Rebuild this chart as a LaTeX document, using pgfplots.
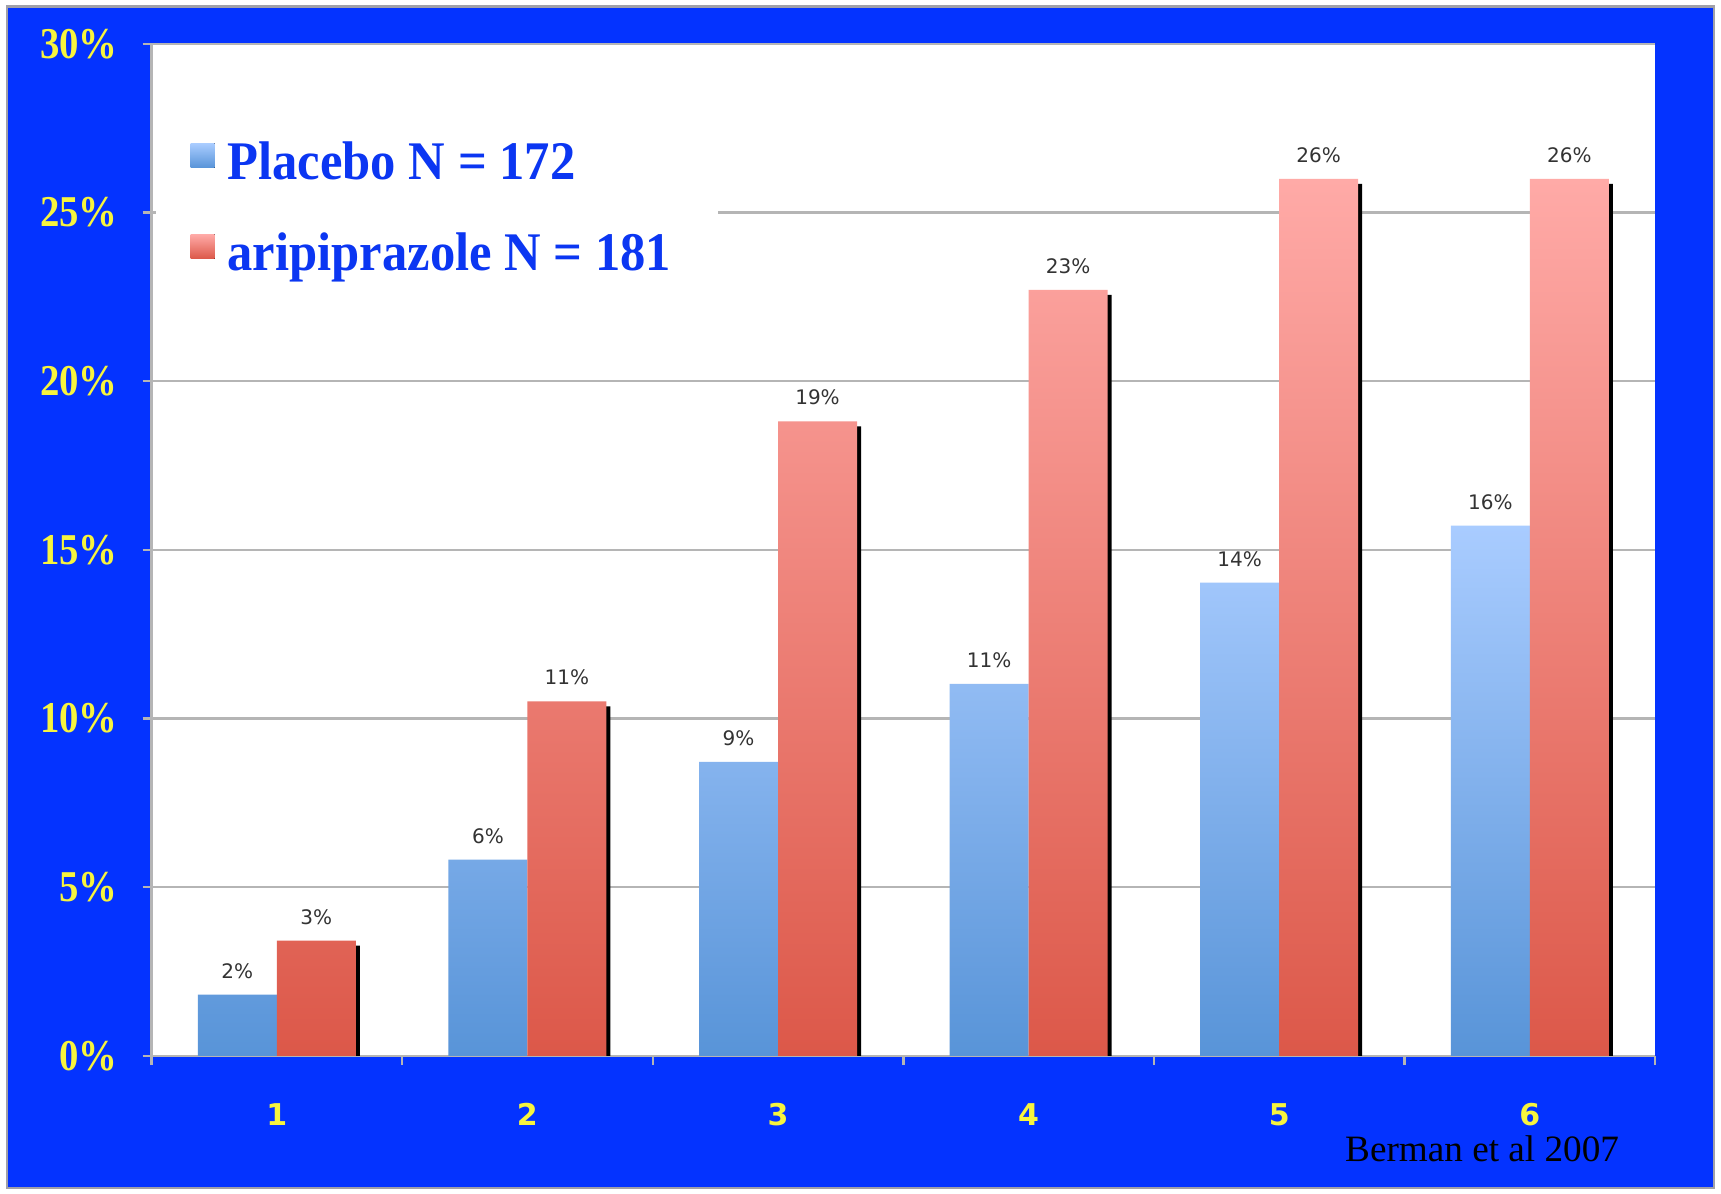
\documentclass[border=0pt]{standalone}
\usepackage{fontspec}
\usepackage{pgfplots}
\pgfplotsset{compat=1.18}
\setmainfont{Liberation Serif}
\newfontfamily\legendfont{Liberation Serif}[FakeStretch=0.93]
\newfontfamily\ytickfont{Liberation Serif}[FakeStretch=0.88]
\newfontfamily\valfont{DejaVu Sans}
\newfontfamily\catfont{DejaVu Sans}

\definecolor{slideblue}{HTML}{0433FF}
\definecolor{framegrey}{HTML}{A0A0A8}
\definecolor{tickyellow}{HTML}{F7F43E}
\definecolor{legendblue}{HTML}{0B36F2}
\definecolor{bluetop}{HTML}{A9CCFF}
\definecolor{bluebot}{HTML}{5894D8}
\definecolor{redtop}{HTML}{FFAAA7}
\definecolor{redbot}{HTML}{DC5849}
\definecolor{gridgrey}{HTML}{B5B5B5}
\definecolor{valgrey}{HTML}{333333}

\begin{document}
\begin{tikzpicture}
\useasboundingbox (0,0) rectangle (430.25pt,298.25pt);
\fill[white] (0,0) rectangle (430.25pt,298.25pt);
\filldraw[fill=slideblue, draw=framegrey, line width=0.6pt] (1.75pt,1.25pt) rectangle (428.5pt,296.6pt);
\begin{axis}[
  at={(37.875pt,34.275pt)}, anchor=south west,
  scale only axis, width=375.9pt, height=253pt,
  xmin=0.5, xmax=6.5, ymin=0, ymax=30,
  /pgf/number format/assume math mode=true,
  axis background/.style={fill=white},
  axis x line*=bottom, axis y line*=left,
  axis line style={draw=gridgrey, line width=0.6pt},
  tick style={draw=gridgrey, line width=0.6pt},
  tick align=outside, major tick length=2.2pt,
  ymajorgrids, grid style={draw=gridgrey, line width=0.6pt},
  ytick={0,5,...,30},
  yticklabel={\pgfmathprintnumber{\tick}\%},
  yticklabel style={font=\ytickfont\bfseries\fontsize{11}{12}\selectfont, text=tickyellow, xshift=-2.75pt},
  xtick={0.5,1.5,...,6.5}, xticklabels={,,,,,,},
  extra x ticks={1,2,3,4,5,6},
  extra x tick labels={1,2,3,4,5,6},
  extra x tick style={major tick length=0pt,
    xticklabel style={yshift=-8.4pt, font=\catfont\bfseries\fontsize{7.5}{9}\selectfont, text=tickyellow}},
  every node near coord/.append style={font=\valfont\fontsize{5}{6}\selectfont, text=valgrey, yshift=0.5pt},
  legend style={at={(rel axis cs:0.0255,0.904)}, anchor=north west, draw=none, fill=none,
    inner sep=0pt, row sep=10.25pt,
    font=\legendfont\bfseries\fontsize{13.6}{14}\selectfont, text=legendblue,
    nodes={inner xsep=3.25pt, inner ysep=0pt, text height=9.5pt, text depth=3pt}},
  legend cell align=left,
]
% white box behind the legend hides the grid line there
\fill[white] (rel axis cs:0.003,0.77) rectangle (rel axis cs:0.3767,0.93);

% drop shadow on the right of the aripiprazole bars
\addplot[ybar, bar width=19.75pt, bar shift=10.875pt, fill=black, draw=none, forget plot,
  transform canvas={yshift=-1.25pt}]
  coordinates {(1,3.42) (2,10.51) (3,18.81) (4,22.71) (5,26.0) (6,26.0)};

% placebo
\addplot[ybar, bar width=19.75pt, bar shift=-9.875pt, draw=none,
  top color=bluetop, bottom color=bluebot,
  nodes near coords={\pgfmathprintnumber[fixed,precision=0]{\pgfplotspointmeta}\%},
  every node near coord/.append style={xshift=-9.875pt},
  legend image code/.code={\fill[top color=bluetop, bottom color=bluebot] (0pt,-0.2pt) rectangle (6pt,5.85pt);}]
  coordinates {(1,1.82) (2,5.82) (3,8.72) (4,11.03) (5,14.03) (6,15.72)};

% aripiprazole
\addplot[ybar, bar width=19.75pt, bar shift=9.875pt, draw=none,
  top color=redtop, bottom color=redbot,
  nodes near coords={\pgfmathprintnumber[fixed,precision=0]{\pgfplotspointmeta}\%},
  every node near coord/.append style={xshift=9.875pt},
  legend image code/.code={\fill[top color=redtop, bottom color=redbot] (0pt,-0.2pt) rectangle (6pt,5.85pt);}]
  coordinates {(1,3.42) (2,10.51) (3,18.81) (4,22.71) (5,26.0) (6,26.0)};

\legend{Placebo N = 172, aripiprazole N = 181}
\end{axis}
\node[anchor=base west, inner sep=0pt, font=\fontsize{9.3}{11}\selectfont] at (336.1pt,8pt) {Berman et al 2007};
\end{tikzpicture}
\end{document}
